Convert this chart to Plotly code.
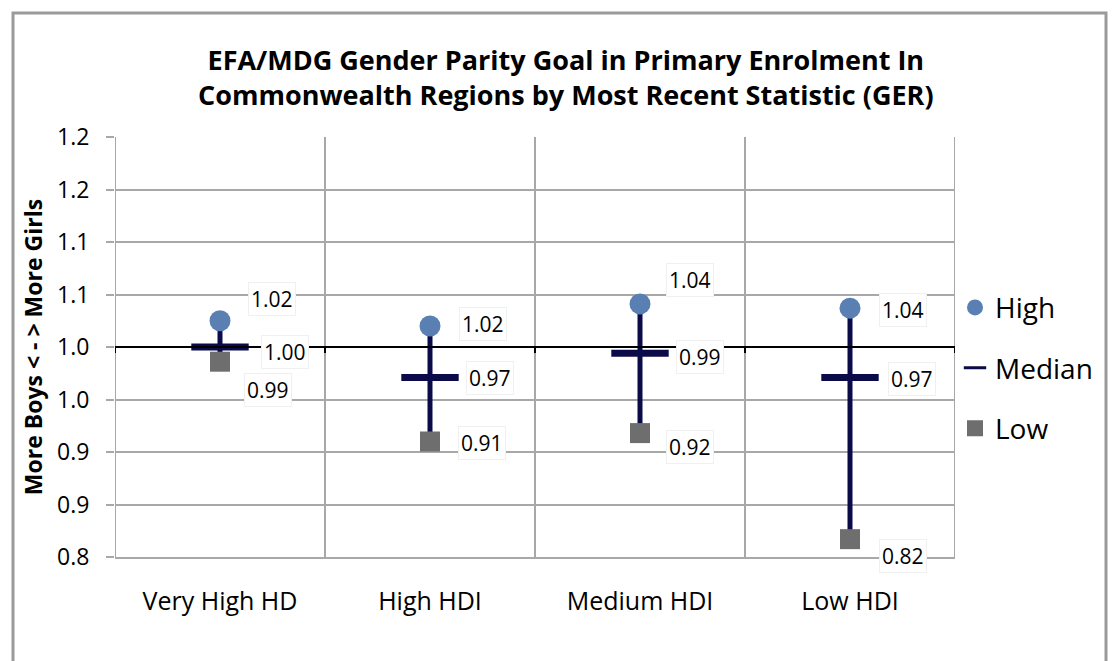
import plotly.graph_objects as go

categories = ["Very High HD", "High HDI", "Medium HDI", "Low HDI"]
high = [1.025, 1.02, 1.041, 1.037]
median = [1.0, 0.971, 0.994, 0.971]
low = [0.986, 0.91, 0.918, 0.817]

y_tickvals = [0.80, 0.85, 0.90, 0.95, 1.00, 1.05, 1.10, 1.15, 1.20]
y_ticktext = ["0.8", "0.9", "0.9", "1.0", "1.0", "1.1", "1.1", "1.2", "1.2"]

title_text = ("EFA/MDG Gender Parity Goal in Primary Enrolment In<br>"
              "Commonwealth Regions by Most Recent Statistic (GER)")
y_title = "More Boys < - > More Girls"

# label offsets in pixels (style only)
high_off = [(52, 22), (53, 2), (50, 24), (53, -2)]
med_off = [(65, -5), (60, -1), (60, -4), (62, -2)]
low_off = [(48, -28), (52, -1), (50, -14), (53, -17)]

FONT = "Open Sans"
NAVY = "#0b0b4a"
BLUE = "#5a7fb3"
GRAY = "#6e6e6e"
GRID = "#a8a8a8"

xs = list(range(len(categories)))

fig = go.Figure()

# high-low lines
lx, ly = [], []
for i in xs:
    lx += [i, i, None]
    ly += [low[i], high[i], None]
fig.add_trace(go.Scatter(x=lx, y=ly, mode="lines", line=dict(color=NAVY, width=5),
                         showlegend=False, hoverinfo="skip"))

fig.add_trace(go.Scatter(x=xs, y=high, mode="markers", name="High", legendgroup="h",
                         marker=dict(symbol="circle", size=21, color=BLUE)))
fig.add_trace(go.Scatter(x=xs, y=median, mode="markers", name="Median", legendgroup="m",
                         showlegend=False,
                         marker=dict(symbol="line-ew", size=41,
                                     line=dict(color=NAVY, width=7))))
# legend entry for median (thin dash, as in the original legend)
fig.add_trace(go.Scatter(x=[None], y=[None], mode="markers", name="Median", legendgroup="m",
                         marker=dict(symbol="line-ew", size=16,
                                     line=dict(color=NAVY, width=3))))
fig.add_trace(go.Scatter(x=xs, y=low, mode="markers", name="Low", legendgroup="l",
                         marker=dict(symbol="square", size=20, color=GRAY)))

annotations = []
for vals, offs in ((high, high_off), (median, med_off), (low, low_off)):
    for i in xs:
        annotations.append(dict(
            x=i, y=vals[i], xref="x", yref="y", text=f"{vals[i]:.2f}",
            showarrow=False, xshift=offs[i][0], yshift=offs[i][1],
            font=dict(family=FONT, size=21, color="#000"),
            bgcolor="white", bordercolor="#f0f0f0", borderwidth=1, borderpad=2))

shapes = []
# outer frame (paper coords: plot area sits at screen x 115..955 px, y 137..557 px)
def px_x(p):
    return (p - 115) / 840.0

def px_y(p):
    return (557 - p) / 420.0

shapes.append(dict(type="rect", xref="paper", yref="paper",
                   x0=px_x(13), x1=px_x(1106), y0=px_y(720), y1=px_y(13),
                   line=dict(color="#9a9a9a", width=3), layer="below"))
# reference line at parity 1.0
shapes.append(dict(type="line", xref="paper", yref="y", x0=0, x1=1, y0=1.0, y1=1.0,
                   line=dict(color="black", width=2)))
for b in range(len(categories) + 1):
    shapes.append(dict(type="line", xref="x", yref="y", xsizemode="scaled",
                       ysizemode="pixel", yanchor=1.0, x0=b - 0.5, x1=b - 0.5,
                       y0=0, y1=-6, line=dict(color="black", width=2)))

fig.update_layout(
    width=1109, height=653,
    margin=dict(l=107, r=162, t=129, b=104),
    paper_bgcolor="white", plot_bgcolor="white",
    font=dict(family=FONT, color="#000"),
    title=dict(text=title_text, x=0.503, xanchor="center", y=0.905, yanchor="top",
               font=dict(family=FONT, size=27, color="#000", weight="bold")),
    showlegend=True,
    legend=dict(x=1.0, xanchor="left", y=0.653, yanchor="top",
                font=dict(family=FONT, size=28), tracegroupgap=21,
                bgcolor="rgba(0,0,0,0)", itemwidth=30),
    shapes=shapes,
    annotations=annotations,
)

fig.update_xaxes(
    tickvals=xs, ticktext=categories, range=[-0.5, len(categories) - 0.5],
    showgrid=False, showline=True, linecolor=GRID, linewidth=2,
    ticks="", tickfont=dict(family=FONT, size=25), ticklabelstandoff=21,
    zeroline=False,
)
for b in range(len(categories) + 1):
    fig.add_vline(x=b - 0.5, line=dict(color=GRID, width=2), layer="below")

fig.update_yaxes(
    range=[0.8, 1.2], tickvals=y_tickvals, ticktext=y_ticktext,
    showgrid=True, gridcolor=GRID, gridwidth=2,
    ticks="outside", ticklen=8, tickcolor=GRID, tickwidth=2,
    tickfont=dict(family=FONT, size=23), ticklabelstandoff=12,
    zeroline=False,
    title=dict(text=y_title, font=dict(family=FONT, size=23, weight="bold"), standoff=8),
)

fig.write_html("out.html")
